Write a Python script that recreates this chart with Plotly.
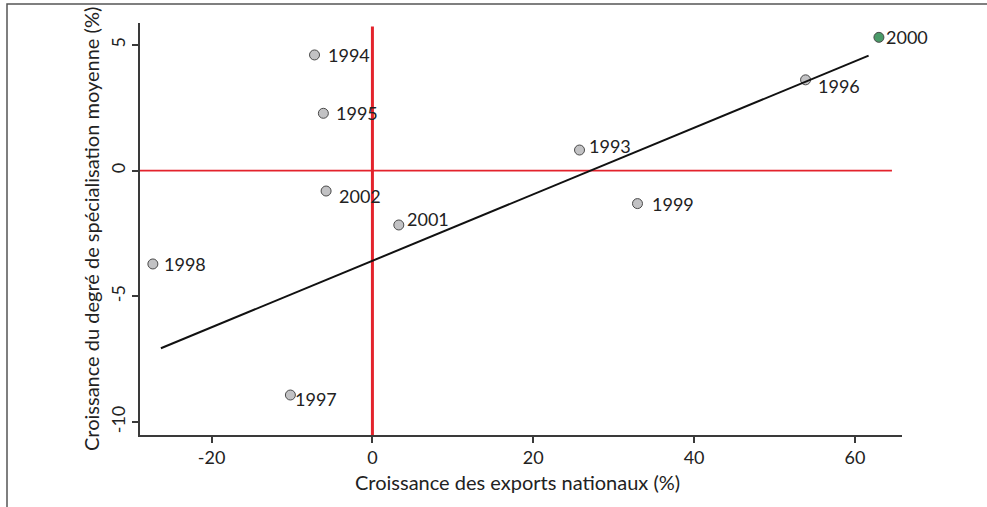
import plotly.graph_objects as go

# Growth of national exports (%) vs growth of the average degree of specialisation (%)
years = ["1993", "1994", "1995", "1996", "1997", "1998", "1999", "2000", "2001", "2002"]
export_growth = [25.75, -7.2, -6.1, 53.86, -10.2, -27.3, 32.96, 62.98, 3.28, -5.76]
specialisation_growth = [0.82, 4.6, 2.28, 3.61, -8.92, -3.71, -1.31, 5.30, -2.16, -0.81]

# Fitted line end points
fit_x = [-26.3, 61.7]
fit_y = [-7.06, 4.57]

x_tick_values = [-20, 0, 20, 40, 60]
x_tick_labels = ["-20", "0", "20", "40", "60"]
y_tick_values = [-10, -5, 0, 5]
y_tick_labels = ["-10", "-5", "0", "5"]

x_title = "Croissance des exports nationaux (%)"
y_title = "Croissance du degré de spécialisation moyenne (%)"

highlight_year = "2000"

# Layout geometry
W, H = 987, 507
L, R, T, B = 140, 85, 23, 72
X_RANGE = [-28.9, 65.85]
Y_RANGE = [-10.51, 5.87]
plot_w = W - L - R
plot_h = H - T - B

FONT = "Lato, 'Open Sans', sans-serif"
TEXT_COLOR = "#222222"
AXIS_COLOR = "#3a3a3a"
RED = "#e3232c"

# Pixel offsets of each point label from its marker (right of the point)
label_shift = {
    "1993": (7, 4), "1994": (11, 0), "1995": (11, 0), "1996": (10, -6),
    "1997": (3, -4), "1998": (9, 0), "1999": (13, 0), "2000": (5, 0),
    "2001": (6, 6), "2002": (11, -5),
}

fig = go.Figure()

# Reference lines at zero
fig.add_trace(go.Scatter(
    x=[0, 0], y=[Y_RANGE[0], 5.73], mode="lines",
    line=dict(color=RED, width=3), hoverinfo="skip", showlegend=False,
))
fig.add_trace(go.Scatter(
    x=[X_RANGE[0], 64.6], y=[0, 0], mode="lines",
    line=dict(color=RED, width=1.6), hoverinfo="skip", showlegend=False,
))

# Yearly observations
colors = ["#4a9a68" if yr == highlight_year else "#c2c2c4" for yr in years]
fig.add_trace(go.Scatter(
    x=export_growth, y=specialisation_growth, mode="markers",
    marker=dict(size=10, color=colors, line=dict(color="#4a4a4a", width=1)),
    text=years, hovertemplate="%{text}: %{x}, %{y}<extra></extra>",
    showlegend=False,
))

# Fitted line
fig.add_trace(go.Scatter(
    x=fit_x, y=fit_y, mode="lines",
    line=dict(color="#111111", width=2), hoverinfo="skip", showlegend=False,
))

annotations = []
for yr, xv, yv in zip(years, export_growth, specialisation_growth):
    dx, dy = label_shift[yr]
    annotations.append(dict(
        x=xv, y=yv, xref="x", yref="y", text=yr, showarrow=False,
        xanchor="left", yanchor="middle", xshift=dx, yshift=dy,
        font=dict(family=FONT, size=18, color=TEXT_COLOR),
    ))

# Axis titles
annotations.append(dict(
    x=(517.5 - L) / plot_w, y=(H - B - 482) / plot_h, xref="paper", yref="paper",
    text=x_title, showarrow=False, xanchor="center", yanchor="middle",
    font=dict(family=FONT, size=20, color=TEXT_COLOR),
))
annotations.append(dict(
    x=(91 - L) / plot_w, y=0.5, xref="paper", yref="paper",
    text=y_title, showarrow=False, xanchor="center", yanchor="middle",
    textangle=-90, font=dict(family=FONT, size=20, color=TEXT_COLOR),
))

# Outer frame (its right and bottom edges fall outside the page)
shapes = [dict(
    type="rect", xref="paper", yref="paper",
    x0=(7 - L) / plot_w, x1=(W + 10 - L) / plot_w,
    y0=(H - B - (H + 10)) / plot_h, y1=(H - B - 4) / plot_h,
    line=dict(color="#555555", width=1.5), fillcolor="rgba(0,0,0,0)", layer="below",
)]

fig.update_layout(
    width=W, height=H,
    margin=dict(l=L, r=R, t=T, b=B, pad=0),
    paper_bgcolor="white", plot_bgcolor="white",
    font=dict(family=FONT, size=18, color=TEXT_COLOR),
    annotations=annotations, shapes=shapes,
    xaxis=dict(
        range=X_RANGE, tickvals=x_tick_values, ticktext=x_tick_labels,
        showgrid=False, zeroline=False, showline=True, linecolor=AXIS_COLOR, linewidth=1.5,
        ticks="outside", ticklen=6, tickwidth=1.5, tickcolor=AXIS_COLOR,
        tickfont=dict(family=FONT, size=18, color=TEXT_COLOR),
    ),
    yaxis=dict(
        range=Y_RANGE, tickvals=y_tick_values, ticktext=y_tick_labels,
        showgrid=False, zeroline=False, showline=True, linecolor=AXIS_COLOR, linewidth=1.5,
        ticks="outside", ticklen=6, tickwidth=1.5, tickcolor=AXIS_COLOR, tickangle=-90,
        tickfont=dict(family=FONT, size=18, color=TEXT_COLOR),
    ),
)

fig.write_html("out.html")
